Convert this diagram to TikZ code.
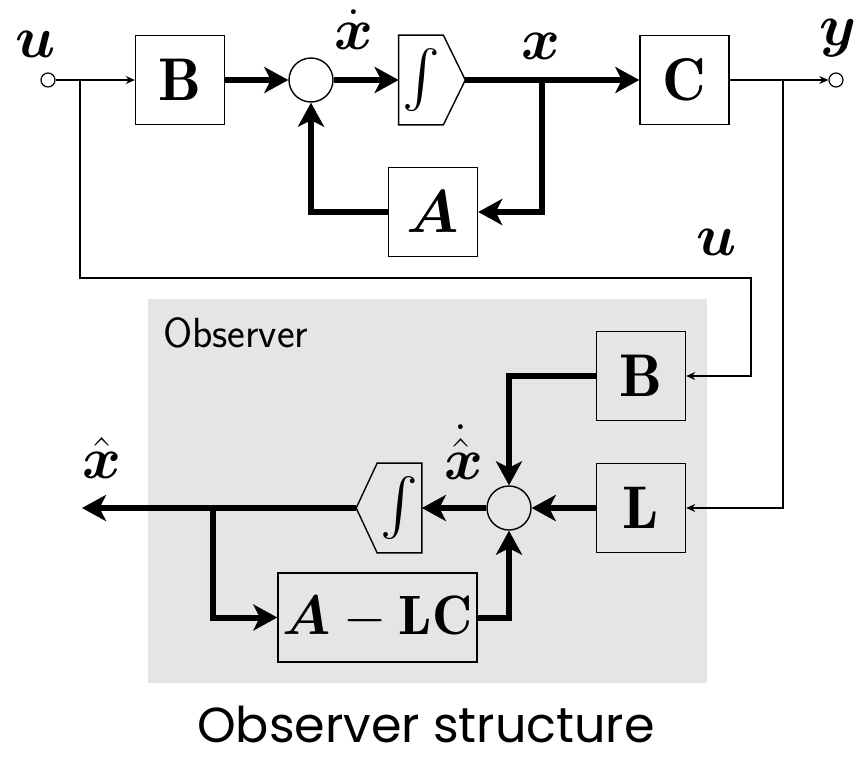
\documentclass[tikz,border=0pt]{standalone}
\usepackage{amsmath}
\usepackage{graphicx}
\usepackage{fontspec}
\newfontfamily\capfont{Poppins}
\usepackage{tikz}
\usetikzlibrary{arrows.meta,positioning,calc}
\newcommand{\blktxt}[1]{\scalebox{1.38}{#1}}
\newcommand{\inttxt}[1]{\scalebox{1.3}{#1}}
\newcommand{\sigtxt}[1]{\scalebox{1.35}{#1}}

\begin{document}
\begin{tikzpicture}[x=0.02cm,y=-0.02cm,
	blk/.style={draw,line width=0.8pt,minimum size=1.78cm,inner sep=0pt,font=\fontsize{24.88}{28}\selectfont},
	intg/.style={minimum width=0.88cm,minimum height=1.78cm,inner sep=0pt,font=\fontsize{24.88}{28}\selectfont},
	sumc/.style={draw,circle,line width=0.8pt,minimum size=0.88cm,inner sep=0pt},
	port/.style={draw,circle,line width=0.7pt,minimum size=0.28cm,inner sep=0pt},
	sig/.style={line width=3.4pt,-{Stealth[length=4.8mm,width=5.2mm,inset=1.3mm]}},
	wire/.style={line width=0.8pt,-{Stealth[length=1.8mm,width=1.6mm]}},
	lbl/.style={inner sep=0pt,font=\fontsize{24.88}{28}\selectfont}]
		
		\useasboundingbox (0,0) rectangle (855,762);
		
		% observer background
		\node (obs) [fill=black!10,minimum width=11.18cm,minimum height=7.68cm,inner sep=0pt] at (427.5,491) {};
		\node (obslbl) [anchor=north west,inner sep=0pt,font=\sffamily\fontsize{24}{26}\selectfont]
		at ($(obs.north west)+(15,19)$) {Observer};
		
		% plant
		\node (uin) [port] at (48,80) {};
		\node (B) [blk] at (180,80) {\blktxt{$\mathbf{B}$}};
		\node (sum) [sumc] at (311,80) {};
		\node (int) [intg] at (421,80) {\inttxt{$\int$}};
		\node (C) [blk] at (684.5,80) {\blktxt{$\mathbf{C}$}};
		\node (yout) [port] at (836,80) {};
		\node (A) [blk] at (433,212) {\blktxt{$\boldsymbol{A}$}};
		
		\draw[line width=0.8pt] (int.north west) -- (int.north east)
		-- ($(int.east)+(22,0)$) -- (int.south east)
		-- (int.south west) -- cycle;
		\coordinate (inttip) at ($(int.east)+(22,0)$);
		
		\node (ulbl) [lbl] at (36,44) {\sigtxt{$\boldsymbol{u}$}};
		\node (ylbl) [lbl] at (838,38) {\sigtxt{$\boldsymbol{y}$}};
		\node (xdlbl) [lbl] at (354,30) {\sigtxt{$\dot{\boldsymbol{x}}$}};
		\node (xlbl) [lbl] at (541,46) {\sigtxt{$\boldsymbol{x}$}};
		\node (u2lbl) [lbl] at (717,242) {\sigtxt{$\boldsymbol{u}$}};
		
		\coordinate (xbr) at (542,80);
		\coordinate (ubr) at (80,80);
		\coordinate (ud) at (80,278);
		\coordinate (ur) at (751,278);
		\coordinate (ybr) at (783,80);
		
		\draw[sig] (B.east) -- (sum.west);
		\draw[sig] (sum.east) -- (int.west);
		\draw[sig] (inttip) -- (C.west);
		\draw[sig] (xbr) |- (A.east);
		\draw[sig] (A.west) -| (sum.south);
		
		\draw[wire] (uin.east) -- (B.west);
		\draw[wire] (C.east) -- (yout.west);
		
		% observer
		\node (oB) [blk] at (641,376) {\blktxt{$\mathbf{B}$}};
		\node (L) [blk] at (641,508) {\blktxt{$\mathbf{L}$}};
		\node (osum) [sumc] at (509,508) {};
		\node (oint) [intg] at (399.5,508) {\inttxt{$\int$}};
		\node (ALC) [blk,minimum width=3.98cm] at (377.5,617.5) {\scalebox{1.27}{$\boldsymbol{A}-\mathbf{LC}$}};
		
		\draw[line width=0.8pt] (oint.north east) -- (oint.north west)
		-- ($(oint.west)+(-21,0)$) -- (oint.south west)
		-- (oint.south east) -- cycle;
		\coordinate (ointtip) at ($(oint.west)+(-21,0)$);
		
		\node (xhlbl) [lbl] at (102,458) {\sigtxt{$\hat{\boldsymbol{x}}$}};
		\node (xhdlbl) [lbl] at (464,452) {\sigtxt{$\dot{\hat{\boldsymbol{x}}}$}};
		
		\coordinate (xhat) at (82,508);
		\coordinate (obr) at (213,508);
		
		\draw[sig] (oB.west) -| (osum.north);
		\draw[sig] (L.west) -- (osum.east);
		\draw[sig] (osum.west) -- (oint.east);
		\draw[sig] (ointtip) -- (xhat);
		\draw[sig] (obr) |- (ALC.west);
		\draw[sig] (ALC.east) -| (osum.south);
		
		% measured signals
		\draw[wire] (ubr) -- (ud) -- (ur) |- (oB.east);
		\draw[wire] (ybr) |- (L.east);
		
		\node (cap) at (426,725)
		{\capfont\fontsize{28}{31}\selectfont Observer structure};
		
	\end{tikzpicture}
\end{document}
